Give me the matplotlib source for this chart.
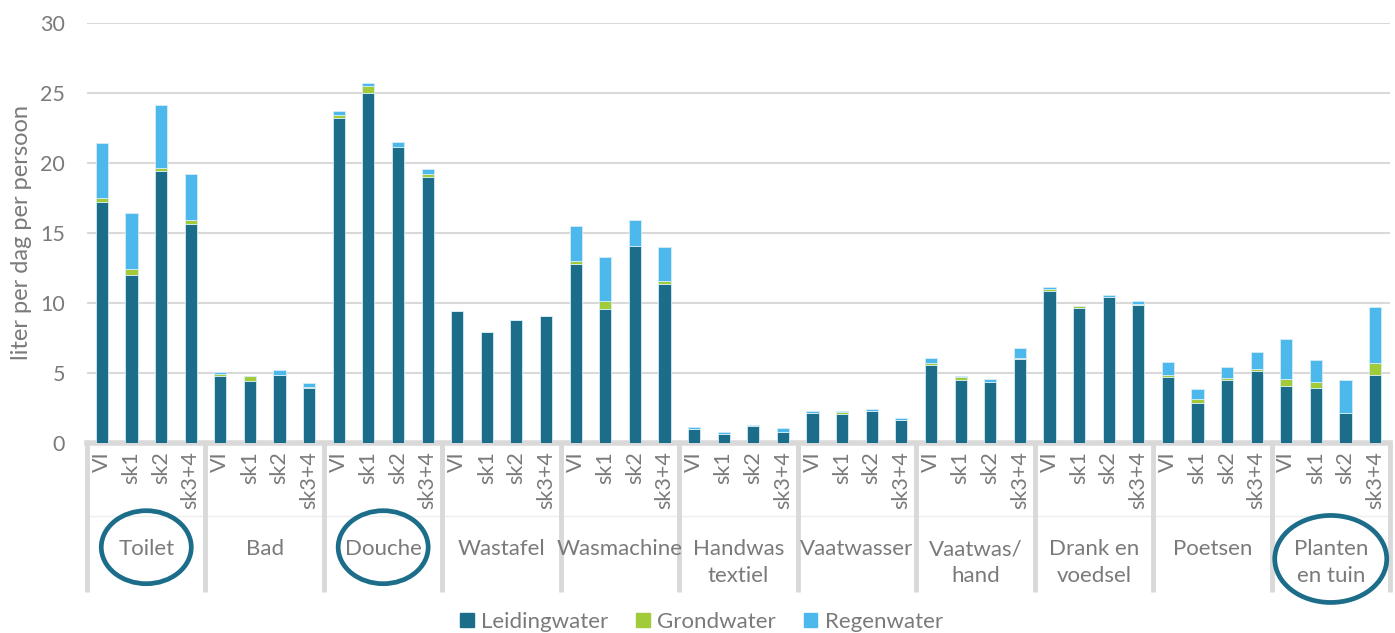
import numpy as np
import matplotlib
matplotlib.use('Agg')
import matplotlib.pyplot as plt
import matplotlib.transforms as mtransforms
from matplotlib.patches import Ellipse, Patch

plt.rcParams['font.family'] = ['Lato', 'DejaVu Sans']

groups = ['Toilet', 'Bad', 'Douche', 'Wastafel', 'Wasmachine', 'Handwas\ntextiel',
          'Vaatwasser', 'Vaatwas/\nhand', 'Drank en\nvoedsel', 'Poetsen', 'Planten\nen tuin']
scenarios = ['VI', 'sk1', 'sk2', 'sk3+4']
circled = ['Toilet', 'Douche', 'Planten\nen tuin']

# cumulative tops, per group: VI, sk1, sk2, sk3+4
leiding_top = [17.2, 12.0, 19.4, 15.6,
               4.8, 4.4, 4.85, 3.9,
               23.2, 25.0, 21.1, 19.0,
               9.4, 7.93, 8.76, 9.05,
               12.8, 9.55, 14.07, 11.36,
               1.0, 0.64, 1.24, 0.79,
               2.17, 2.07, 2.29, 1.64,
               5.57, 4.5, 4.36, 6.0,
               10.88, 9.6, 10.43, 9.86,
               4.71, 2.86, 4.52, 5.17,
               4.05, 3.93, 2.12, 4.86]
grond_top = [17.5, 12.4, 19.6, 15.9,
             4.9, 4.75, 4.85, 3.97,
             23.4, 25.5, 21.1, 19.2,
             9.4, 7.93, 8.76, 9.05,
             13.0, 10.17, 14.07, 11.55,
             1.0, 0.64, 1.24, 0.79,
             2.17, 2.19, 2.29, 1.64,
             5.69, 4.71, 4.36, 6.1,
             10.98, 9.76, 10.43, 9.95,
             4.84, 3.12, 4.62, 5.26,
             4.6, 4.38, 2.12, 5.71]
regen_top = [21.4, 16.4, 24.1, 19.2,
             5.1, 4.8, 5.2, 4.25,
             23.7, 25.7, 21.5, 19.55,
             9.4, 7.93, 8.76, 9.05,
             15.5, 13.26, 15.95, 14.0,
             1.12, 0.76, 1.31, 1.05,
             2.31, 2.26, 2.41, 1.76,
             6.1, 4.76, 4.57, 6.79,
             11.12, 9.76, 10.55, 10.17,
             5.81, 3.88, 5.4, 6.5,
             7.4, 5.95, 4.48, 9.71]

leiding = np.array(leiding_top)
grond = np.array(grond_top) - leiding
regen = np.array(regen_top) - np.array(grond_top)

C_LEID = '#1b6d8a'
C_GROND = '#a2cb3a'
C_REGEN = '#4db8ec'
GREY = '#d9d9d9'
TXT = '#7a7a7a'

fig = plt.figure(figsize=(13.95, 6.33), dpi=100)
ax = fig.add_axes([0.0624, 0.3002, 0.934, 0.6639])

n = len(leiding)
x = np.arange(n)
bw = 0.41
edge = dict(edgecolor='#d6ecf5', linewidth=0.6)
ax.bar(x, leiding, bw, color=C_LEID, zorder=3, **edge)
ax.bar(x, grond, bw, bottom=leiding, color=C_GROND, zorder=3, **edge)
ax.bar(x, regen, bw, bottom=leiding + grond, color=C_REGEN, zorder=3, **edge)

ax.set_xlim(-0.5, n - 0.5)
ax.set_ylim(0, 30)
ax.set_yticks(range(0, 31, 5))
ax.grid(axis='y', color=GREY, linewidth=1.5, zorder=0)
for s in ['top', 'right', 'left']:
    ax.spines[s].set_visible(False)
ax.spines['bottom'].set_color(GREY)
ax.spines['bottom'].set_linewidth(4)
ax.tick_params(axis='y', length=0, labelsize=15.5, labelcolor=TXT, pad=16)
ax.set_ylabel('liter per dag per persoon', fontsize=17, color=TXT, labelpad=6)

ax.set_xticks(x)
ax.set_xticklabels(scenarios * len(groups), rotation=90, fontsize=15.5, color=TXT)
ax.tick_params(axis='x', length=0, pad=6)

trans = mtransforms.blended_transform_factory(ax.transData, ax.transAxes)
# group separators below the axis
for b in np.arange(-0.5, n, 4):
    ax.plot([b, b], [0, -0.355], transform=trans, color=GREY, linewidth=3.5,
            clip_on=False, zorder=1, solid_capstyle='butt')
ax.plot([-0.5, n - 0.5], [-0.173, -0.173], transform=trans, color='#efefef',
        linewidth=1, clip_on=False, zorder=0)

for i, g in enumerate(groups):
    cx = 4 * i + 1.5
    ax.text(cx, -0.229, g, transform=trans, ha='center', va='top', fontsize=16,
            color=TXT, linespacing=1.45)
    if g in circled:
        two = '\n' in g
        w, h = (1.12, 0.87) if two else ((0.90, 0.73) if len(g) < 7 else (1.02, 0.75))
        cy = -0.276 if two else -0.248
        off = mtransforms.ScaledTranslation(cx, cy, trans)
        ax.add_patch(Ellipse((0, 0), w, h, transform=fig.dpi_scale_trans + off,
                             fill=False, edgecolor=C_LEID, linewidth=3.4,
                             clip_on=False, zorder=4))

handles = [Patch(color=C_LEID, label='Leidingwater'),
           Patch(color=C_GROND, label='Grondwater'),
           Patch(color=C_REGEN, label='Regenwater')]
leg = fig.legend(handles=handles, loc='center', bbox_to_anchor=(0.503, 0.018), ncol=3,
                 frameon=False, fontsize=16, handlelength=0.6, handleheight=0.6,
                 handletextpad=0.35, columnspacing=1.25)
for t in leg.get_texts():
    t.set_color(TXT)

fig.savefig('out.png', dpi=100)
